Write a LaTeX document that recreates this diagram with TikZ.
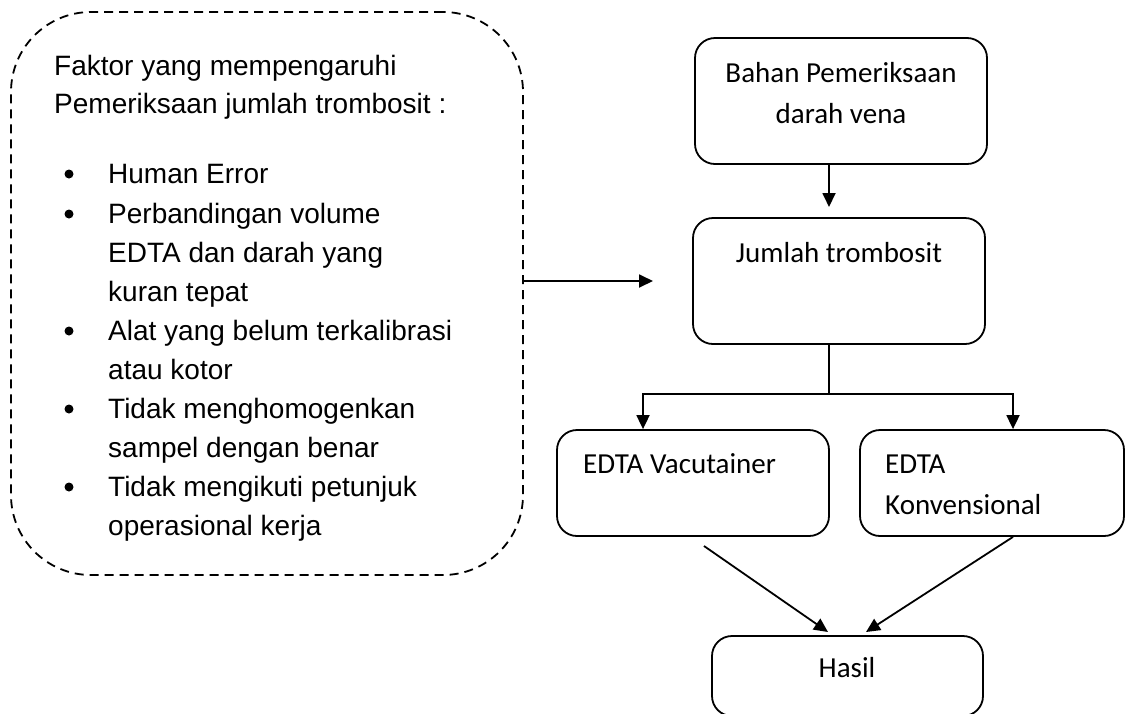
\documentclass[tikz,border=0pt]{standalone}
\usepackage{fontspec}
\setmainfont{Liberation Sans}
\newfontfamily\calibri{Carlito}
\usetikzlibrary{arrows.meta}
\begin{document}
\begin{tikzpicture}[x=1pt,y=-1pt,
  box/.style={draw, line width=1.8pt, rounded corners=20pt, inner sep=0pt},
  dbox/.style={draw, line width=1.8pt, dash pattern=on 9pt off 6pt, rounded corners=80pt, inner sep=0pt},
  arr/.style={line width=1.8pt, -{Triangle[length=14pt,width=13pt]}},
  ln/.style={line width=1.8pt},
  lt/.style={font=\fontsize{28}{39}\selectfont, anchor=base west, inner sep=0pt},
  rt/.style={font=\calibri\fontsize{29}{41}\selectfont, inner sep=0pt},
  bul/.style={circle, fill, inner sep=0pt, minimum size=9pt}]
\useasboundingbox (0,0) rectangle (1126,713);

% left dashed box
\node[dbox, minimum width=512pt, minimum height=563pt] (faktor) at (267,293.5) {};
\node[lt] (f1) at (54,75) {Faktor yang mempengaruhi};
\node[lt] (f2) at (54,113) {Pemeriksaan jumlah trombosit :};
\node[bul] (b1) at (69,174) {};
\node[lt] (i1) at (108,183) {Human Error};
\node[bul] (b2) at (69,214) {};
\node[lt] (i2) at (108,223) {Perbandingan volume};
\node[lt] (i2b) at (108,262) {EDTA dan darah yang};
\node[lt] (i2c) at (108,301) {kuran tepat};
\node[bul] (b3) at (69,331) {};
\node[lt] (i3) at (108,340) {Alat yang belum terkalibrasi};
\node[lt] (i3b) at (108,379) {atau kotor};
\node[bul] (b4) at (69,409) {};
\node[lt] (i4) at (108,418) {Tidak menghomogenkan};
\node[lt] (i4b) at (108,457) {sampel dengan benar};
\node[bul] (b5) at (69,487) {};
\node[lt] (i5) at (108,496) {Tidak mengikuti petunjuk};
\node[lt] (i5b) at (108,535) {operasional kerja};

% right boxes
\node[box, minimum width=292pt, minimum height=126pt] (bahan) at (841,101) {};
\node[rt, anchor=base] (tb1) at (841,82) {Bahan Pemeriksaan};
\node[rt, anchor=base] (tb2) at (841,123) {darah vena};

\node[box, minimum width=292pt, minimum height=126pt] (jumlah) at (839,281) {};
\node[rt, anchor=base] (tj) at (839,262) {Jumlah trombosit};

\node[box, minimum width=272pt, minimum height=106pt] (vac) at (693,483) {};
\node[rt, anchor=base west] (tv) at (583,473) {EDTA Vacutainer};

\node[box, minimum width=264pt, minimum height=106pt] (kon) at (992,483) {};
\node[rt, anchor=base west] (tk1) at (885,473) {EDTA};
\node[rt, anchor=base west] (tk2) at (885,514) {Konvensional};

\node[box, minimum width=271pt, minimum height=80pt] (hasil) at (847.5,676) {};
\node[rt, anchor=base] (th) at (847,677) {Hasil};

% connectors
\coordinate (c1) at (829,207);
\draw[arr] (bahan.south -| c1) -- (c1);
\coordinate (c2) at (653,281);
\draw[arr] (faktor.east |- c2) -- (c2);
\coordinate (sp) at (829,394);
\coordinate (sl) at (643,394);
\coordinate (sr) at (1013,394);
\draw[ln] (jumlah.south -| sp) -- (sp);
\draw[arr] (sp) -- (sl) -- (vac.north -| sl);
\draw[arr] (sp) -- (sr) -- (kon.north -| sr);
\coordinate (d1s) at (704,546);
\coordinate (d1e) at (828,632);
\coordinate (d2e) at (866,632);
\draw[arr] (d1s) -- (d1e);
\draw[arr] (kon.south -| sr) -- (d2e);
\end{tikzpicture}
\end{document}
